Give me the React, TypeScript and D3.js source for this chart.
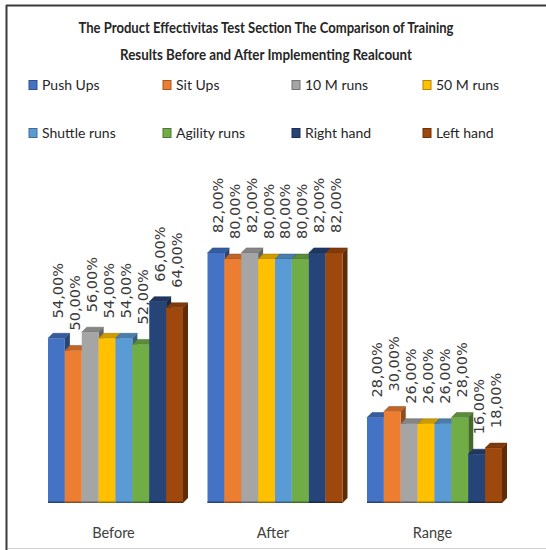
import React from "react";
import * as d3 from "d3";

const categories = ["Before", "After", "Range"];
const series = ["Push Ups", "Sit Ups", "10 M runs", "50 M runs", "Shuttle runs", "Agility runs", "Right hand", "Left hand"];
const colors = ["#4472C4", "#ED7D31", "#A5A5A5", "#FFC000", "#5B9BD5", "#70AD47", "#264478", "#9E480E"];
const beforeValues = [54, 50, 56, 54, 54, 52, 66, 64];
const afterValues = [82, 80, 82, 80, 80, 80, 82, 82];
const rangeValues = [28, 30, 26, 26, 26, 28, 16, 18];
const valuesByCategory = [beforeValues, afterValues, rangeValues];
const titleLines = [
  "The Product Effectivitas Test Section The Comparison of Training",
  "Results Before and After Implementing Realcount",
];

const W = 546;
const H = 550;

export default function App() {
  const y = d3.scaleLinear().domain([0, 100]).range([503, 198]);
  const x0 = d3.scaleBand<string>().domain(categories).range([35.75, 514.25]).paddingInner(0.1536).paddingOuter(0.0768);
  const x1 = d3.scaleBand<string>().domain(series).range([0, x0.bandwidth()]).padding(0);
  const dx = 5;
  const dy = 5;
  const fmt = (v: number) => d3.format(".2f")(v).replace(".", ",") + "%";
  const base = y(0);
  const legendCols = [29, 163, 292, 423];
  const legendRows = [85, 133];

  return (
    <svg width={W} height={H} style={{ position: "absolute", left: 0, top: 0, background: "#fff" }}>
      <rect x={0} y={0} width={W} height={H} fill="#fff" />
      <line x1={6} y1={5.5} x2={546} y2={5.5} stroke="#3a3a3a" strokeWidth={2} />
      <line x1={6.5} y1={5} x2={6.5} y2={550} stroke="#3a3a3a" strokeWidth={2} />
      <line x1={8} y1={548.5} x2={546} y2={548.5} stroke="#d0d0d0" strokeWidth={1} />
      {titleLines.map((t, i) => (
        <text key={i} x={266} y={33 + i * 27} textAnchor="middle" fontFamily="Lato" fontWeight="bold" fontSize={15.5} fill="#262626"
          textLength={i === 0 ? 375 : 292} lengthAdjust="spacingAndGlyphs">{t}</text>
      ))}
      {series.map((s, i) => {
        const cx = legendCols[i % 4];
        const cy = legendRows[Math.floor(i / 4)];
        return (
          <g key={s}>
            <rect x={cx} y={cy - 4.5} width={8} height={9} fill={colors[i]} stroke={d3.color(colors[i])!.darker(1).toString()} strokeWidth={1} />
            <text x={cx + 13} y={cy + 5} fontFamily="Lato" fontSize={14} fill="#262626">{s}</text>
          </g>
        );
      })}
      {categories.map((c, ci) => {
        const gx = x0(c)!;
        return (
          <g key={c}>
            {valuesByCategory[ci].map((v, si) => {
              const bx = gx + x1(series[si])!;
              const bw = x1.bandwidth();
              const by = y(v);
              const col = d3.color(colors[si])!;
              const top = col.darker(0.6).toString();
              const side = col.darker(1.4).toString();
              return (
                <g key={si}>
                  <polygon points={`${bx + bw},${by} ${bx + bw + dx},${by - dy} ${bx + bw + dx},${base - dy} ${bx + bw},${base}`} fill={side} />
                  <polygon points={`${bx},${by} ${bx + dx},${by - dy} ${bx + bw + dx},${by - dy} ${bx + bw},${by}`} fill={top} stroke={side} strokeWidth={0.5} />
                  <rect x={bx} y={by} width={bw} height={base - by} fill={colors[si]} />
                  <line x1={bx} x2={bx + bw} y1={base - 0.75} y2={base - 0.75} stroke={side} strokeWidth={1.5} />
                </g>
              );
            })}
            {valuesByCategory[ci].map((v, si) => {
              const bx = gx + x1(series[si])! + x1.bandwidth() / 2 + 3;
              const ly = y(v) - 20;
              return (
                <text key={"l" + si} transform={`translate(${bx},${ly}) rotate(-90)`} dominantBaseline="middle"
                  fontFamily="DejaVu Sans" fontSize={14.5} fill="#3a3a3a">{fmt(v)}</text>
              );
            })}
            <text x={gx + x0.bandwidth() / 2 - 2} y={538} textAnchor="middle" fontFamily="Lato" fontSize={14.5} fill="#404040">{c}</text>
          </g>
        );
      })}
    </svg>
  );
}
